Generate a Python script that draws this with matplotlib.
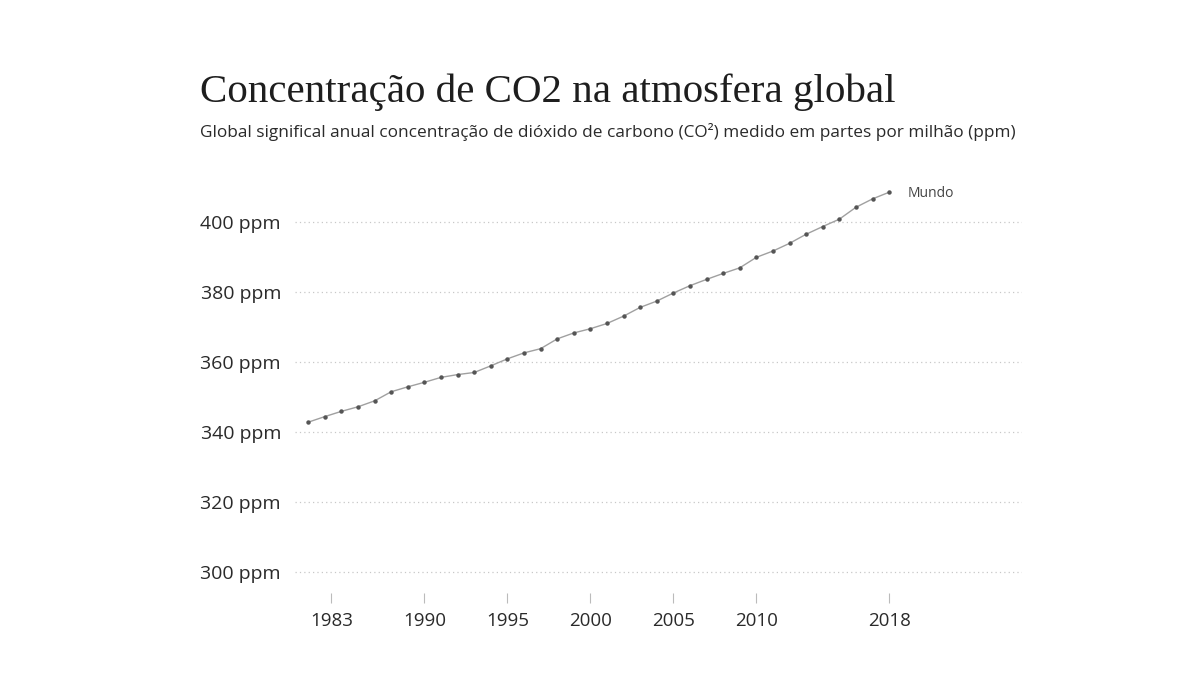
import matplotlib.pyplot as plt

# Mauna Loa annual mean CO2 (ppm)
years = list(range(1983, 2019))
co2 = [342.8, 344.4, 345.9, 347.2, 348.9, 351.5, 352.9, 354.2, 355.6, 356.4,
       357.0, 358.9, 360.9, 362.6, 363.8, 366.6, 368.3, 369.5, 371.0, 373.1,
       375.6, 377.4, 379.7, 381.8, 383.6, 385.3, 386.9, 389.9, 391.7, 393.9,
       396.5, 398.7, 400.8, 404.2, 406.6, 408.5]

ytick_vals = [300, 320, 340, 360, 380, 400]
ytick_labels = [f"{v} ppm" for v in ytick_vals]
xtick_vals = [1984.4, 1990, 1995, 2000, 2005, 2010, 2018]
xtick_labels = ["1983", "1990", "1995", "2000", "2005", "2010", "2018"]

title = "Concentração de CO2 na atmosfera global"
subtitle = ("Global significal anual concentração de dióxido de carbono (CO²) "
            "medido em partes por milhão (ppm)")

sans = ["Open Sans", "DejaVu Sans"]


def main():
    fig = plt.figure(figsize=(12, 6.75), dpi=100)
    fig.patch.set_facecolor("white")
    ax = fig.add_axes([0.2458, 0.1215, 0.6058, 0.6015])

    for v in ytick_vals:
        ax.axhline(v, color="#c8c8c8", lw=0.9, ls=(0, (1, 2.5)), zorder=1)

    ax.plot(years, co2, color="#a0a0a0", lw=1.0, zorder=2)
    ax.plot(years, co2, "o", color="#555555", ms=2.2, zorder=3)
    ax.text(years[-1] + 1.1, co2[-1] - 0.5, "Mundo", fontsize=10,
            color="#444444", va="center", ha="left", family=sans)

    ax.set_xlim(1982.2, 2026.0)
    ax.set_ylim(294, 410)
    for s in ax.spines.values():
        s.set_visible(False)

    ax.set_yticks(ytick_vals)
    ax.set_yticklabels(ytick_labels, family=sans, fontsize=14, color="#2a2a2a")
    ax.tick_params(axis="y", length=0, pad=10)

    ax.set_xticks(xtick_vals)
    ax.set_xticklabels(xtick_labels, family=sans, fontsize=13.5, color="#2a2a2a")
    ax.tick_params(axis="x", length=7.5, width=0.8, color="#bbbbbb",
                   direction="out", pad=6)

    fig.text(0.1667, 0.849, title, family=["Liberation Serif", "DejaVu Serif"],
             fontsize=29.5, color="#1e1e1e", va="baseline", ha="left")
    fig.text(0.1667, 0.797, subtitle, family=sans, fontsize=12.4,
             color="#2a2a2a", va="baseline", ha="left")

    fig.savefig("out.png", dpi=100, facecolor="white")


if __name__ == "__main__":
    main()
